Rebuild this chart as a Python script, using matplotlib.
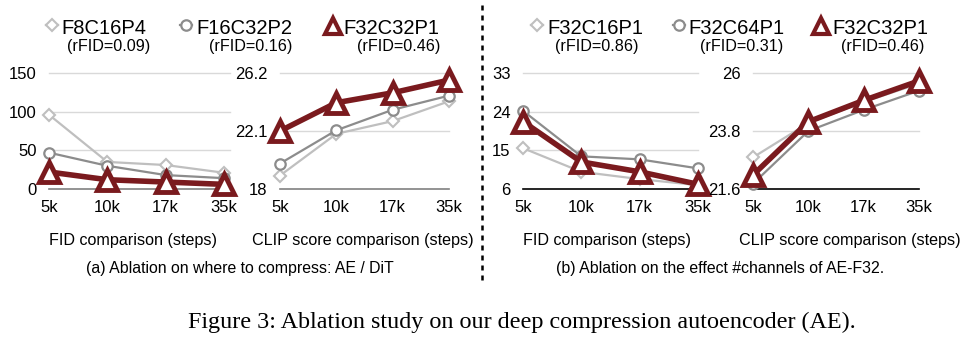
import matplotlib
matplotlib.use('Agg')
import matplotlib.pyplot as plt
from matplotlib.lines import Line2D

plt.rcParams['font.family'] = ['Liberation Sans', 'DejaVu Sans']

W, H = 964, 340

# data
steps = ['5k', '10k', '17k', '35k']

fid_a_f8 = [96, 35, 31, 21]
fid_a_f16 = [47, 30, 18, 14]
fid_a_f32 = [22, 12, 9, 6]
clip_a_f8 = [18.95, 21.9, 22.8, 24.2]
clip_a_f16 = [19.8, 22.15, 23.6, 24.6]
clip_a_f32 = [22.1, 24.1, 24.8, 25.7]

fid_b_c16 = [15.5, 10.0, 8.3, 6.9]
fid_b_c64 = [24.2, 13.6, 12.9, 10.8]
fid_b_c32 = [21.7, 12.3, 10.0, 7.1]
clip_b_c16 = [22.8, 24.1, 24.9, 25.6]
clip_b_c64 = [21.8, 23.8, 24.6, 25.33]
clip_b_c32 = [22.13, 24.15, 24.96, 25.7]

yticks_fid_a = [0, 50, 100, 150]
yticks_clip_a = [18, 22.1, 26.2]
yticks_fid_b = [6, 15, 24, 33]
yticks_clip_b = [21.6, 23.8, 26]

light = '#bfbfbf'
mid = '#8c8c8c'
red = '#7a1a1e'

styles = [
    dict(color=light, lw=1.6, marker='D', ms=6.5, mfc='white', mew=1.5),
    dict(color=mid, lw=1.6, marker='o', ms=7.5, mfc='white', mew=1.6),
    dict(color=red, lw=4, marker='^', ms=14, mfc='white', mew=3.5),
]


def fx(x):
    return x / W


def fy(y):
    return 1 - y / H


def make_ax(x0, x1, y0=73, y1=189):
    return fig.add_axes([fx(x0), fy(y1), fx(x1 - x0), (y1 - y0) / H])


def draw(ax, series, yticks, base_color, xmax=3):
    for t in yticks[1:]:
        ax.plot([0, xmax], [t, t], color='#d9d9d9', lw=1, zorder=1, clip_on=False)
    ax.plot([0, xmax], [yticks[0], yticks[0]], color=base_color, lw=1.2, zorder=1, clip_on=False)
    for vals, st in zip(series, styles):
        ax.plot(range(len(steps)), vals, clip_on=False, zorder=3, **st)
    ax.set_xlim(0, 3)
    ax.set_ylim(yticks[0], yticks[-1])
    ax.set_yticks(yticks)
    ax.set_yticklabels([('%g' % t) for t in yticks])
    ax.set_xticks(range(len(steps)))
    ax.set_xticklabels(steps)
    ax.tick_params(length=0, labelsize=12, colors='black')
    ax.tick_params(axis='y', pad=9)
    ax.tick_params(axis='x', pad=8)
    for s in ax.spines.values():
        s.set_visible(False)
    ax.patch.set_alpha(0)


fig = plt.figure(figsize=(W / 100, H / 100), dpi=100)

ax1 = make_ax(49, 224)
draw(ax1, [fid_a_f8, fid_a_f16, fid_a_f32], yticks_fid_a, '#808080', xmax=3.1)
ax2 = make_ax(280, 449)
draw(ax2, [clip_a_f8, clip_a_f16, clip_a_f32], yticks_clip_a, '#808080')
ax3 = make_ax(523, 698)
draw(ax3, [fid_b_c16, fid_b_c64, fid_b_c32], yticks_fid_b, 'black')
ax4 = make_ax(753, 919)
draw(ax4, [clip_b_c16, clip_b_c64, clip_b_c32], yticks_clip_b, 'black')

# axis captions
for cx, txt in [(133, 'FID comparison (steps)'), (363, 'CLIP score comparison (steps)'),
                (607, 'FID comparison (steps)'), (850, 'CLIP score comparison (steps)')]:
    fig.text(fx(cx), fy(240), txt, ha='center', va='center', fontsize=11.6)

fig.text(fx(240), fy(269), '(a) Ablation on where to compress: AE / DiT',
         ha='center', va='center', fontsize=11.4)
fig.text(fx(720), fy(269), '(b) Ablation on the effect #channels of AE-F32.',
         ha='center', va='center', fontsize=11.4)

# legends
legend_items = [
    (52, 61, 109, 'F8C16P4', '(rFID=0.09)', 0),
    (186, 196, 251, 'F16C32P2', '(rFID=0.16)', 1),
    (333, 343, 399, 'F32C32P1', '(rFID=0.46)', 2),
    (537, 547, 597, 'F32C16P1', '(rFID=0.86)', 0),
    (679, 688, 742, 'F32C64P1', '(rFID=0.31)', 1),
    (821, 832, 883, 'F32C32P1', '(rFID=0.46)', 2),
]
for mx, tx, rx, name, rfid, k in legend_items:
    st = dict(styles[k])
    if k == 2:
        st.update(ms=11, mew=3, lw=0)
        my = 26
    else:
        my = 25
    fig.add_artist(Line2D([fx(mx - 6), fx(mx), fx(mx + 6)], [fy(my)] * 3,
                          transform=fig.transFigure, markevery=[1], **st))
    fig.text(fx(tx), fy(28), name, ha='left', va='center', fontsize=14.5)
    fig.text(fx(rx), fy(47), rfid, ha='center', va='center', fontsize=11.6)

# separator
fig.add_artist(Line2D([fx(482), fx(482)], [fy(5), fy(285)], transform=fig.transFigure,
                      color='black', lw=1.8, ls=(0, (2, 2))))

fig.text(fx(522), fy(322), 'Figure 3: Ablation study on our deep compression autoencoder (AE).',
         ha='center', va='center', fontsize=17.4, family=['Liberation Serif', 'DejaVu Serif'])

fig.savefig('out.png', dpi=100)
